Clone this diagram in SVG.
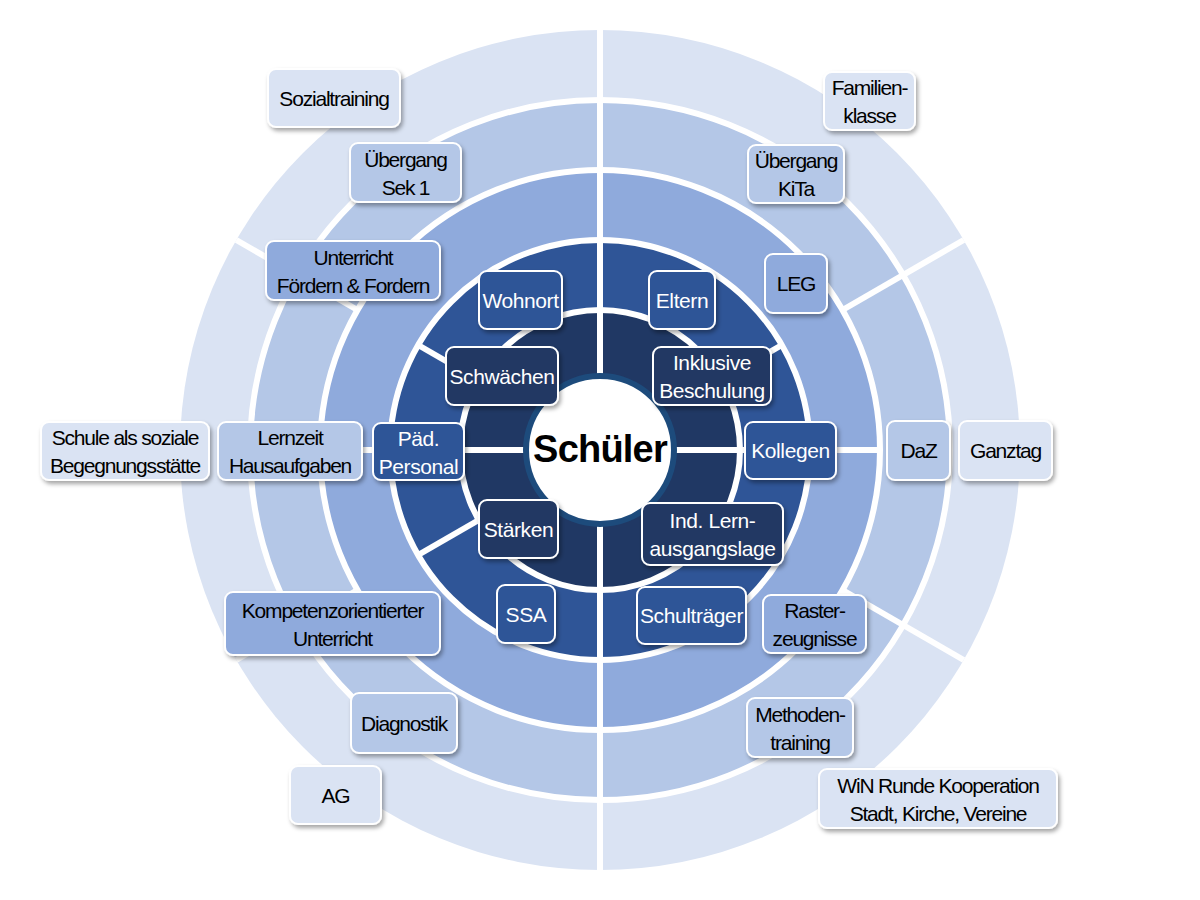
<svg xmlns="http://www.w3.org/2000/svg" width="1200" height="900" viewBox="0 0 1200 900">
<defs>
<filter id="sh" x="-20%" y="-20%" width="150%" height="160%">
<feDropShadow dx="2" dy="3" stdDeviation="2" flood-color="#000" flood-opacity="0.35"/>
</filter>
<linearGradient id="gl" x1="0" y1="0" x2="0" y2="1">
<stop offset="0" stop-color="#fff" stop-opacity="0.18"/>
<stop offset="1" stop-color="#fff" stop-opacity="0"/>
</linearGradient>
</defs>
<style>
.ring{stroke:#fff;stroke-width:6}
.div line{stroke:#fff;stroke-width:6}
.box rect{stroke:#fff;stroke-width:2;filter:url(#sh)}
.b0{fill:#dae3f3}.b1{fill:#b4c7e7}.b2{fill:#8faadc}.b3{fill:#2f5597}.b4{fill:#203864}
text{font-family:"Liberation Sans",Arial,sans-serif;font-size:21px;text-anchor:middle}
.t{fill:#000;letter-spacing:-1.2px}
.tw{fill:#fff;letter-spacing:-0.4px}
</style>
<rect width="1200" height="900" fill="#fff"/>
<g id="rings">
<circle cx="600" cy="450" r="420" fill="#dae3f3"/>
<circle class="ring" cx="600" cy="450" r="350" fill="#b4c7e7"/>
<circle class="ring" cx="600" cy="450" r="280" fill="#8faadc"/>
<circle class="ring" cx="600" cy="450" r="210" fill="#2f5597"/>
<circle class="ring" cx="600" cy="450" r="140" fill="#203864"/>
</g>
<g id="connectors" class="div">
<line x1="600" y1="30" x2="600" y2="870"/>
<line x1="320" y1="450" x2="880" y2="450"/>
<line x1="721.2" y1="380" x2="781.9" y2="345"/>
<line x1="478.8" y1="380" x2="418.1" y2="345"/>
<line x1="478.8" y1="520" x2="418.1" y2="555"/>
<line x1="721.2" y1="520" x2="781.9" y2="555"/>
<line x1="842.5" y1="310" x2="963.7" y2="240"/>
<line x1="357.5" y1="310" x2="236.3" y2="240"/>
<line x1="357.5" y1="590" x2="236.3" y2="660"/>
<line x1="842.5" y1="590" x2="963.7" y2="660"/>
</g>
<g id="center">
<circle cx="600" cy="450" r="74" fill="#fff" stroke="#1d4b7c" stroke-width="6"/>
<text x="600" y="462" style="font-size:38px;font-weight:bold;letter-spacing:-0.8px;fill:#000">Schüler</text>
</g>
<g id="n-sozialtraining" class="box"><rect class="b0" x="268" y="69" width="132" height="58" rx="8"/><text class="t" x="334" y="105.5">Sozialtraining</text></g>
<g id="n-familienklasse" class="box"><rect class="b0" x="824" y="72" width="91" height="58" rx="8"/><text class="t" x="869.5" y="95">Familien-</text><text class="t" x="869.5" y="123">klasse</text></g>
<g id="n-uebergang-sek1" class="box"><rect class="b1" x="350" y="143" width="111" height="59" rx="8"/><text class="t" x="405.5" y="166.5">Übergang</text><text class="t" x="405.5" y="194.5">Sek 1</text></g>
<g id="n-uebergang-kita" class="box"><rect class="b1" x="748" y="145" width="96" height="58" rx="8"/><text class="t" x="796" y="168">Übergang</text><text class="t" x="796" y="196">KiTa</text></g>
<g id="n-unterricht" class="box"><rect class="b2" x="266" y="241" width="174" height="59" rx="8"/><text class="t" x="353" y="264.5">Unterricht</text><text class="t" x="353" y="292.5">Fördern &amp; Fordern</text></g>
<g id="n-leg" class="box"><rect class="b2" x="765" y="254" width="62" height="59" rx="8"/><text class="t" x="796" y="291">LEG</text></g>
<g id="n-schule" class="box"><rect class="b0" x="41" y="422" width="168" height="58" rx="8"/><text class="t" x="125" y="445">Schule als soziale</text><text class="t" x="125" y="473">Begegnungsstätte</text></g>
<g id="n-lernzeit" class="box"><rect class="b1" x="218" y="422" width="144" height="58" rx="8"/><text class="t" x="290" y="445">Lernzeit</text><text class="t" x="290" y="473">Hausaufgaben</text></g>
<g id="n-paed" class="box"><rect class="b3" x="373" y="423" width="91" height="57" rx="8"/><text class="tw" x="418.5" y="445.5">Päd.</text><text class="tw" x="418.5" y="473.5">Personal</text></g>
<g id="n-kollegen" class="box"><rect class="b3" x="745" y="422" width="91" height="57" rx="8"/><text class="tw" x="790.5" y="458">Kollegen</text></g>
<g id="n-daz" class="box"><rect class="b1" x="887" y="421" width="63" height="59" rx="8"/><text class="t" x="918.5" y="458">DaZ</text></g>
<g id="n-ganztag" class="box"><rect class="b0" x="959" y="421" width="93" height="59" rx="8"/><text class="t" x="1005.5" y="458">Ganztag</text></g>
<g id="n-kompetenz" class="box"><rect class="b2" x="225" y="592" width="215" height="63" rx="8"/><text class="t" x="332.5" y="617.5">Kompetenzorientierter</text><text class="t" x="332.5" y="645.5">Unterricht</text></g>
<g id="n-raster" class="box"><rect class="b2" x="763" y="595" width="103" height="58" rx="8"/><text class="t" x="814.5" y="618">Raster-</text><text class="t" x="814.5" y="646">zeugnisse</text></g>
<g id="n-diagnostik" class="box"><rect class="b1" x="351" y="693" width="106" height="60" rx="8"/><text class="t" x="404" y="730.5">Diagnostik</text></g>
<g id="n-methoden" class="box"><rect class="b1" x="747" y="698" width="106" height="59" rx="8"/><text class="t" x="800" y="721.5">Methoden-</text><text class="t" x="800" y="749.5">training</text></g>
<g id="n-ag" class="box"><rect class="b0" x="290" y="766" width="91" height="58" rx="8"/><text class="t" x="335.5" y="802.5">AG</text></g>
<g id="n-win" class="box"><rect class="b0" x="819" y="769" width="238" height="59" rx="8"/><text class="t" x="938" y="792.5">WiN Runde Kooperation</text><text class="t" x="938" y="820.5">Stadt, Kirche, Vereine</text></g>
<g id="n-wohnort" class="box"><rect class="b3" x="479" y="271" width="83" height="58" rx="8"/><text class="tw" x="520.5" y="307.5">Wohnort</text></g>
<g id="n-eltern" class="box"><rect class="b3" x="649" y="271" width="66" height="58" rx="8"/><text class="tw" x="682" y="307.5">Eltern</text></g>
<g id="n-schwaechen" class="box"><rect class="b4" x="446" y="347" width="112" height="58" rx="8"/><text class="tw" x="502" y="383.5">Schwächen</text></g>
<g id="n-inklusive" class="box"><rect class="b4" x="653" y="347" width="118" height="58" rx="8"/><text class="tw" x="712" y="370">Inklusive</text><text class="tw" x="712" y="398">Beschulung</text></g>
<g id="n-staerken" class="box"><rect class="b4" x="479" y="500" width="79" height="58" rx="8"/><text class="tw" x="518.5" y="536.5">Stärken</text></g>
<g id="n-indlern" class="box"><rect class="b4" x="642" y="503" width="141" height="62" rx="8"/><text class="tw" x="712.5" y="528">Ind. Lern-</text><text class="tw" x="712.5" y="556">ausgangslage</text></g>
<g id="n-ssa" class="box"><rect class="b3" x="497" y="585" width="58" height="58" rx="8"/><text class="tw" x="526" y="621.5">SSA</text></g>
<g id="n-schultraeger" class="box"><rect class="b3" x="637" y="587" width="109" height="57" rx="8"/><text class="tw" x="691.5" y="623">Schulträger</text></g>
</svg>
